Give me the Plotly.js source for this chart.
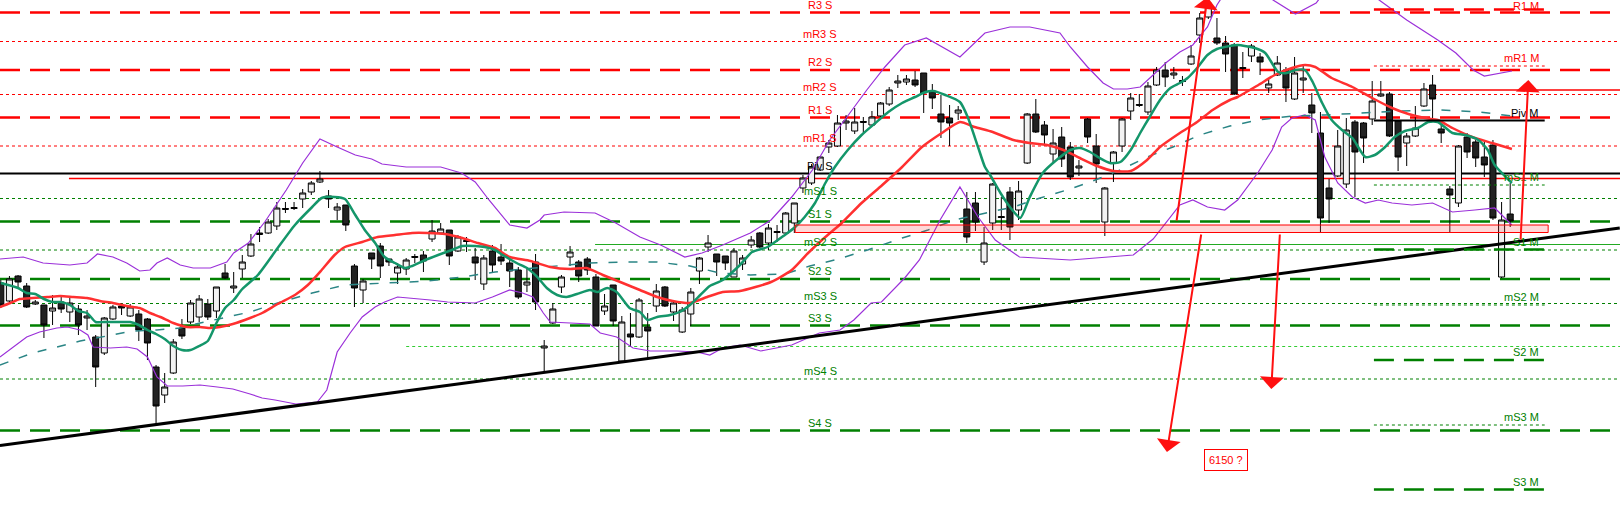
<!DOCTYPE html>
<html>
<head>
<meta charset="utf-8">
<script src="https://cdn.plot.ly/plotly-3.0.1.min.js"></script>
<style>html,body{margin:0;padding:0;background:#fff;}#chart{width:1620px;height:532px;}</style>
</head>
<body>
<div id="chart"></div>
<script>
// ---------- Candles (index 0..175) ----------
const open = [6484,6448,6498,6478,6442,6440,6428,6446,6426,6432, 6414,6376,6344,6412,6438,6418,6422,6412,6316,6260,
 6304,6394,6406,6416,6442,6428,6504,6474,6512,6538, 6581,6584,6598,6631,6635,6652,6666,6686,6658,6630,
 6640,6518,6470,6544,6558,6532,6504,6512,6535,6540, 6572,6584,6590,6548,6569,6536,6482,6548,6536,6524,
 6510,6480,6526,6354,6404,6476,6536,6526,6532,6496, 6428,6480,6328,6382,6376,6396,6438,6476,6426,6386,
 6422,6508,6556,6542,6538,6496,6522,6560,6584,6564, 6585,6584,6604,6674,6684,6710,6756,6758,6804,6788,
 6805,6800,6818,6842,6884,6886,6890,6904,6866,6822, 6814,6824,6632,6644,6526,6604,6617,6666,6630,6724,
 6822,6800,6742,6776,6756,6714,6812,6758,6606,6724, 6758,6828,6839,6826,6880,6910,6900,6889,6922,6980,
 7016,6974,6964,6960,6915,6938,6936,6874,6900,6910, 6852,6890,6840,6784,6674,6698,6682,6806,6804,6812,
 6858,6862,6808,6764,6778,6838,6880,6792,6672,6644, 6776,6766,6736,6760,6496,6622];
const high = [6490,6498,6500,6484,6450,6440,6460,6456,6454,6440, 6430,6380,6416,6440,6444,6442,6430,6414,6320,6304,
 6372,6412,6450,6460,6452,6476,6522,6506,6540,6582, 6596,6612,6646,6646,6646,6672,6688,6708,6670,6644,
 6640,6522,6492,6544,6564,6532,6524,6534,6542,6548, 6610,6604,6590,6580,6576,6554,6540,6560,6562,6530,
 6516,6516,6542,6370,6444,6500,6558,6530,6536,6502, 6462,6480,6418,6424,6454,6424,6482,6478,6448,6436,
 6474,6536,6580,6542,6538,6554,6540,6578,6586,6602, 6600,6626,6644,6700,6722,6738,6770,6820,6820,6834,
 6816,6828,6846,6876,6900,6900,6908,6904,6882,6860, 6840,6838,6666,6666,6596,6684,6656,6676,6688,6824,
 6852,6808,6792,6796,6766,6730,6814,6782,6676,6748, 6814,6864,6862,6886,6916,6926,6916,6898,6960,7024,
 7054,7014,6978,6964,6946,6962,6944,6894,6938,6916, 6936,6922,6864,6826,6692,6790,6814,6810,6806,6888,
 6888,6866,6810,6784,6838,6884,6900,6800,6678,6760, 6784,6770,6766,6770,6646,6684];
const low = [6434,6446,6476,6434,6440,6374,6400,6424,6406,6380, 6390,6276,6340,6410,6420,6416,6368,6330,6200,6244,
 6302,6372,6402,6406,6410,6414,6492,6464,6494,6536, 6566,6582,6590,6624,6630,6634,6660,6684,6634,6610,
 6588,6436,6444,6512,6494,6518,6482,6500,6524,6506, 6566,6582,6520,6546,6546,6490,6470,6506,6520,6476,
 6452,6466,6430,6306,6402,6464,6518,6486,6500,6398, 6420,6398,6326,6356,6374,6334,6426,6436,6408,6384,
 6398,6482,6546,6498,6510,6496,6510,6554,6554,6550, 6566,6580,6584,6664,6680,6708,6744,6756,6790,6782,
 6784,6798,6816,6838,6874,6880,6876,6824,6832,6774, 6758,6810,6564,6588,6520,6590,6590,6570,6610,6722,
 6784,6758,6724,6716,6690,6698,6764,6684,6578,6686, 6746,6810,6836,6820,6878,6876,6892,6878,6920,6964,
 7012,6960,6906,6860,6894,6926,6900,6864,6898,6846, 6850,6864,6784,6586,6604,6696,6674,6656,6724,6800,
 6856,6776,6708,6718,6776,6836,6814,6764,6586,6636, 6734,6716,6696,6610,6494,6596];
const close = [6440,6492,6486,6436,6446,6400,6434,6432,6444,6400, 6418,6316,6414,6436,6434,6436,6390,6364,6238,6276,
 6366,6378,6444,6452,6416,6476,6494,6478,6526,6562, 6584,6606,6634,6633,6633,6664,6684,6692,6652,6636,
 6600,6474,6488,6532,6518,6526,6516,6530,6537,6528, 6588,6592,6538,6576,6567,6524,6534,6520,6528,6508,
 6456,6486,6446,6358,6432,6496,6546,6498,6510,6398, 6438,6408,6406,6376,6450,6388,6468,6438,6444,6430,
 6466,6534,6564,6526,6524,6548,6534,6570,6556,6594, 6587,6624,6644,6694,6716,6736,6764,6804,6808,6806,
 6807,6816,6844,6870,6888,6892,6880,6864,6854,6806, 6804,6830,6576,6606,6564,6682,6615,6596,6668,6822,
 6786,6780,6764,6732,6696,6718,6776,6722,6674,6746, 6812,6854,6841,6878,6910,6896,6904,6887,6938,7014,
 7044,6964,6942,6862,6913,6958,6926,6882,6924,6874, 6904,6894,6824,6614,6652,6758,6790,6746,6774,6848,
 6862,6778,6736,6778,6794,6872,6852,6784,6660,6758, 6746,6734,6720,6614,6610,6608];

// ---------- Indicator lines: [candle index, price] ----------
const fastMA = [[0,6484],[2,6474],[3,6464],[4,6462],[5,6452],[6,6446],[7,6446],[8,6440],[9,6428],[10,6424],
 [11,6406],[12,6406],[14,6406],[15,6406],[16,6400],[17,6390],[18,6382],[19,6372],[20,6358],[21,6350],
 [22,6350],[23,6358],[24,6368],[25,6404],[26,6434],[27,6450],[28,6472],[29.8,6500],[32.1,6554],[34.1,6600],
 [36.1,6636],[37.2,6654],[38.7,6656],[39.9,6652],[41.1,6620],[42.2,6590],[43.4,6564],[44.5,6536],[45.7,6524],[46.9,6514],
 [47.7,6518],[49.2,6530],[50.7,6540],[52.3,6550],[53.5,6558],[55.0,6558],[56.1,6556],[57.3,6550],[58.2,6540],[59.8,6524],
 [61.0,6514],[62.2,6496],[63.3,6474],[64.5,6460],[65.6,6456],[66.8,6462],[68.3,6470],[69.2,6466],[70.3,6474],[71.4,6466],
 [72.9,6434],[74.1,6426],[75.0,6410],[76.1,6416],[77.6,6420],[78.7,6426],[79.9,6440],[81.1,6460],[82.2,6478],[83.7,6490],
 [85.7,6520],[87.1,6546],[88.9,6556],[90.9,6580],[92.1,6596],[93.2,6616],[94.4,6644],[95.6,6684],[96.7,6716],[98.2,6750],
 [99.8,6780],[101.4,6804],[102.9,6826],[104.5,6844],[106.0,6856],[107.2,6866],[108.1,6868],[109.5,6860],[111.2,6846],[112.1,6816],
 [113.3,6756],[114.1,6716],[114.7,6700],[115.9,6664],[117.0,6636],[118.2,6614],[119.3,6656],[120.8,6704],[122.4,6730],[124.0,6750],
 [125.1,6754],[126.3,6746],[127.4,6734],[128.6,6724],[129.8,6726],[131.0,6750],[132.1,6784],[133.2,6816],[134.4,6850],[135.6,6874],
 [136.7,6884],[137.6,6894],[138.8,6916],[139.9,6940],[141.0,6952],[142.5,6958],[143.4,6960],[145.4,6954],[146.6,6944],[148.1,6906],
 [149.1,6904],[150.1,6910],[151.2,6910],[152.1,6886],[153.2,6844],[154.3,6810],[155.5,6790],[156.7,6774],[158.2,6736],[159.3,6740],
 [160.5,6756],[161.6,6776],[162.8,6788],[164.3,6794],[165.5,6806],[166.6,6806],[168.3,6784],[169.8,6780],[171.3,6770],[172.4,6750],
 [173.2,6720],[175.2,6684]];
const slowMA = [[-0.1,6436],[1.1,6444],[2.2,6452],[3.7,6454],[5.4,6456],[6.9,6458],[8.4,6456],[10.0,6454],[11.5,6448],[13.0,6444],
 [14.6,6438],[16.1,6434],[17.3,6424],[18.5,6416],[20.0,6404],[21.6,6396],[23.1,6396],[24.3,6394],[25.4,6396],[26.9,6402],
 [28.9,6414],[30.3,6424],[32.1,6442],[34.1,6460],[35.6,6480],[37.2,6510],[38.7,6540],[39.9,6556],[41.9,6566],[43.7,6576],
 [45.7,6580],[47.7,6584],[49.5,6584],[51.5,6582],[53.5,6574],[55.3,6564],[57.3,6554],[59.0,6536],[61.4,6528],[63.7,6516],
 [66.0,6512],[67.9,6514],[69.8,6500],[72.1,6484],[74.1,6470],[76.1,6456],[77.9,6448],[79.9,6444],[81.9,6456],[83.7,6466],
 [85.7,6468],[89.3,6486],[91.7,6510],[93.6,6544],[95.6,6576],[97.5,6604],[99.8,6644],[102.2,6680],[104.5,6716],[106.8,6756],
 [109.1,6784],[111.2,6806],[112.9,6796],[115.0,6786],[117.4,6770],[119.3,6764],[121.3,6760],[123.2,6750],[125.1,6734],[127.1,6718],
 [129.0,6708],[131.0,6708],[132.9,6730],[134.4,6756],[136.7,6784],[138.7,6806],[140.5,6830],[142.5,6850],[143.4,6856],[145.8,6880],
 [147.7,6900],[149.7,6914],[151.2,6920],[152.4,6916],[154.3,6894],[156.7,6876],[159.0,6854],[161.3,6834],[163.2,6822],[165.1,6814],
 [166.6,6810],[168.3,6794],[170.6,6776],[172.9,6764],[175.2,6752]];
const longMA = [[-0.1,6320],[0.8,6326],[3.7,6344],[6.5,6356],[9.2,6368],[12.3,6378],[15.3,6388],[18.1,6390],[20.8,6394],[23.1,6404],
 [25.8,6414],[28.9,6426],[32.1,6444],[36.1,6464],[39.9,6480],[42.2,6482],[45.7,6484],[49.5,6488],[53.5,6496],[57.3,6506],
 [60.5,6512],[64.5,6518],[68.3,6524],[72.1,6526],[76.1,6526],[79.9,6518],[83.4,6504],[86.9,6500],[90.9,6502],[93.8,6518],
 [96.7,6530],[100.5,6550],[104.5,6574],[107.5,6590],[110.6,6610],[114.7,6626],[117.4,6636],[120.5,6654],[123.6,6670],[126.3,6686],
 [129.8,6710],[132.9,6736],[135.9,6756],[139.0,6780],[142.5,6798],[145.8,6810],[149.7,6818],[153.5,6820],[157.6,6824],[162.2,6828],
 [166.9,6830],[171.5,6826],[175.2,6818]];
const bandUpper = [[-0.1,6532],[2.6,6536],[4.9,6524],[8.0,6520],[10.0,6524],[11.2,6542],[13.0,6536],[14.6,6524],[16.1,6508],[17.3,6510],
 [18.1,6524],[19.3,6534],[20.8,6520],[22.3,6514],[24.3,6514],[26.2,6526],[27.0,6544],[28.7,6564],[30.6,6606],[33.1,6670],
 [35.0,6724],[37.0,6772],[39.0,6756],[41.1,6740],[43.0,6732],[44.2,6722],[47.0,6716],[51.0,6716],[53.4,6704],[55.0,6686],
 [56.6,6650],[57.8,6624],[59.0,6600],[61.0,6594],[62.5,6610],[63.0,6620],[65.3,6626],[68.9,6624],[71.3,6604],[74.1,6576],
 [76.5,6560],[79.3,6536],[81.3,6544],[83.7,6560],[86.9,6584],[89.3,6610],[91.7,6656],[94.1,6710],[96.1,6770],[98.1,6816],
 [100.4,6870],[102.5,6916],[104.8,6960],[107.3,6974],[109.2,6956],[111.2,6936],[114.1,6984],[117.0,6996],[119.3,6996],[121.3,6990],
 [122.8,6984],[124.0,6956],[126.0,6916],[127.8,6884],[129.0,6872],[130.6,6872],[132.1,6876],[133.6,6900],[135.2,6926],[136.7,6946],
 [138.2,6960],[139.9,6996],[141.0,7040],[142.5,7080],[144.8,7100],[147.5,7050],[150.1,7022],[152.5,7044],[154.1,7080],[157.6,7080],
 [159.8,7050],[163.0,7010],[166.6,6970],[168.7,6944],[170.7,6910],[172.0,6898],[175.2,6908]];
const bandLower = [[-0.1,6336],[1.4,6356],[3.0,6376],[4.5,6386],[6.5,6394],[7.7,6396],[9.2,6390],[10.1,6380],[10.7,6356],[12.7,6354],
 [14.6,6356],[15.8,6352],[17.0,6336],[18.1,6296],[19.3,6278],[21.1,6278],[23.1,6280],[25.1,6276],[26.9,6272],[28.9,6262],
 [30.3,6254],[31.8,6250],[34.2,6242],[36.7,6246],[37.8,6270],[39.0,6346],[40.5,6384],[41.9,6416],[43.4,6436],[44.5,6446],
 [46.0,6456],[49.8,6450],[51.8,6446],[55.0,6444],[57.0,6456],[59.0,6470],[60.5,6464],[61.7,6456],[62.9,6424],[63.7,6406],
 [65.6,6404],[68.3,6402],[69.5,6384],[71.4,6376],[73.3,6354],[75.3,6348],[78.4,6348],[80.7,6346],[82.2,6340],[83.7,6354],
 [85.7,6360],[88.1,6348],[91.7,6360],[94.9,6384],[97.3,6390],[98.9,6410],[100.9,6444],[102.1,6446],[104.8,6494],[106.5,6530],
 [108.9,6610],[111.2,6676],[113.3,6616],[115.3,6570],[118.1,6536],[124.0,6530],[131.3,6540],[133.6,6572],[136.7,6640],[138.2,6650],
 [139.9,6636],[141.9,6630],[143.4,6650],[145.8,6706],[147.4,6750],[148.5,6796],[149.7,6814],[151.2,6820],[152.4,6810],[153.5,6736],
 [155.0,6684],[156.7,6656],[158.2,6644],[159.7,6650],[161.3,6644],[163.6,6640],[166.0,6644],[168.3,6626],[170.9,6630],[173.2,6634],
 [175.2,6600]];

// ---------- Pivot levels ----------
const sessionLabels = ['R3 S','mR3 S','R2 S','mR2 S','R1 S','mR1 S','Piv S','mS1 S','S1 S','mS2 S','S2 S','mS3 S','S3 S','mS4 S','S4 S'];
const sessionValues = [7025,6967,6910,6861,6815,6758,6703,6653,6607,6550,6492,6443,6399,6292,6189];
const monthLabels = ['R1 M','mR1 M','Piv M','mS1 M','S1 M','mS2 M','S2 M','mS3 M','S3 M'];
const monthValues = [7031,6918,6809,6680,6551,6440,6330,6200,6071];
const monthSpan = [159.2, 179.0];
const sessionLabelAt = 95.0;
const monthLabelAt = 178.6;

// extra drawn lines
const extraValues = [6693, 6561, 6357, 6870];
const extraStarts = [7.9, 68.9, 47.0, 137.9];
const extraColors = ['#ff0000', '#22aa22', '#33cc33', '#ff0000'];
const extraDash = ['solid', 'solid', '3px,3px', 'solid'];

// red zone
const zoneX = [92.1, 179.4];
const zoneY = [6585, 6600];

// trend line
const trendX = [-0.1, 187.7];
const trendY = [6159, 6594];

// arrows (tail -> head)
const arrowTailX = [136.3, 139.2, 148.3, 176.2];
const arrowTailY = [6606, 6584, 6584, 6568];
const arrowHeadX = [139.9, 135.2, 147.3, 177.1];
const arrowHeadY = [7056, 6146, 6272, 6890];

const noteText = '6150 ?';
const noteX = 142.1, noteY = 6131;

const xRange = [-0.093, 187.73];
const yRange = [5986, 7050];

// ---------- Build ----------
const idx = open.map((_, i) => i);
const xs = a => a.map(p => p[0]);
const ys = a => a.map(p => p[1]);

const traces = [
  {type:'candlestick', x:idx, open:open, high:high, low:low, close:close,
   increasing:{line:{color:'#000', width:1}, fillcolor:'#f2f2f2'},
   decreasing:{line:{color:'#000', width:1}, fillcolor:'#222222'},
   whiskerwidth:0, hoverinfo:'skip'},
  {type:'scatter', mode:'lines', x:xs(bandUpper), y:ys(bandUpper), line:{color:'#9b30d9', width:1.2}, hoverinfo:'skip'},
  {type:'scatter', mode:'lines', x:xs(bandLower), y:ys(bandLower), line:{color:'#9b30d9', width:1.2}, hoverinfo:'skip'},
  {type:'scatter', mode:'lines', x:xs(longMA), y:ys(longMA), line:{color:'#2a8585', width:1.5, dash:'9px,11px'}, hoverinfo:'skip'},
  {type:'scatter', mode:'lines', x:xs(slowMA), y:ys(slowMA), line:{color:'#ff3030', width:2.5, shape:'spline', smoothing:0.6}, hoverinfo:'skip'},
  {type:'scatter', mode:'lines', x:xs(fastMA), y:ys(fastMA), line:{color:'#14966a', width:2.5, shape:'spline', smoothing:0.6}, hoverinfo:'skip'},
  {type:'scatter', mode:'lines', x:trendX, y:trendY, line:{color:'#000', width:3}, hoverinfo:'skip'}
];

function levelStyle(name) {
  const minor = name.charAt(0) === 'm';
  const core = minor ? name.slice(1) : name;
  if (core.indexOf('Piv') === 0) return {color:'#000000', width:2, dash:'solid', text:'#000000'};
  const isR = core.charAt(0) === 'R';
  const col = isR ? '#ff0000' : '#008000';
  return minor ? {color:col, width:1, dash:'3px,3px', text:col} : {color:col, width:2.5, dash:'20px,10px', text:col};
}

const labelFont = 'Liberation Sans, Arial, sans-serif';
const shapes = [];
const annotations = [];
sessionLabels.forEach((name, i) => {
  const st = levelStyle(name);
  shapes.push({type:'line', xref:'paper', x0:0, x1:1, yref:'y', y0:sessionValues[i], y1:sessionValues[i],
               line:{color:st.color, width:st.width, dash:st.dash}, layer:'below'});
  annotations.push({x:sessionLabelAt, y:sessionValues[i], xref:'x', yref:'y', text:name, showarrow:false,
                    xanchor:'center', yanchor:'bottom', font:{family:labelFont, size:11, color:st.text}});
});
extraValues.forEach((v, i) => {
  shapes.push({type:'line', xref:'x', x0:extraStarts[i], x1:xRange[1], yref:'y', y0:v, y1:v,
               line:{color:extraColors[i], width:extraColors[i] === '#ff0000' ? 1.5 : 1.2, dash:extraDash[i]}, layer:'below'});
});
monthLabels.forEach((name, i) => {
  const st = levelStyle(name);
  shapes.push({type:'line', xref:'x', x0:monthSpan[0], x1:monthSpan[1], yref:'y', y0:monthValues[i], y1:monthValues[i],
               line:{color:st.color, width:st.width, dash:st.dash}, layer:'above'});
  const atTop = monthValues[i] > yRange[1] - 30;
  annotations.push({x:monthLabelAt, y:atTop ? yRange[1] : monthValues[i], xref:'x', yref:'y', text:name, showarrow:false,
                    xanchor:'right', yanchor:atTop ? 'top' : 'bottom', yshift:atTop ? 2 : 0,
                    font:{family:labelFont, size:11, color:st.text}});
});
shapes.push({type:'rect', xref:'x', yref:'y', x0:zoneX[0], x1:zoneX[1], y0:zoneY[0], y1:zoneY[1],
             fillcolor:'rgba(255,60,60,0.2)', line:{color:'#ff0000', width:1}, layer:'above'});

arrowHeadX.forEach((hx, i) => {
  annotations.push({x:hx, y:arrowHeadY[i], ax:arrowTailX[i], ay:arrowTailY[i], xref:'x', yref:'y', axref:'x', ayref:'y',
                    text:'', showarrow:true, arrowhead:1, arrowsize:2, arrowwidth:2, arrowcolor:'#ff1010', standoff:0, startstandoff:0});
});
annotations.push({x:noteX, y:noteY, xref:'x', yref:'y', text:noteText, showarrow:false, bgcolor:'#ffffff',
                  bordercolor:'#ff0000', borderwidth:1, borderpad:4, font:{family:labelFont, size:11, color:'#ff0000'}});

const layout = {
  width:1620, height:532, margin:{l:0, r:0, t:0, b:0},
  paper_bgcolor:'#ffffff', plot_bgcolor:'#ffffff', showlegend:false,
  boxgap:0.3, boxgroupgap:0,
  xaxis:{range:xRange, visible:false, showgrid:false, zeroline:false, rangeslider:{visible:false}},
  yaxis:{range:yRange, visible:false, showgrid:false, zeroline:false},
  shapes:shapes, annotations:annotations
};
Plotly.newPlot('chart', traces, layout, {staticPlot:true, displayModeBar:false});
</script>
</body>
</html>
